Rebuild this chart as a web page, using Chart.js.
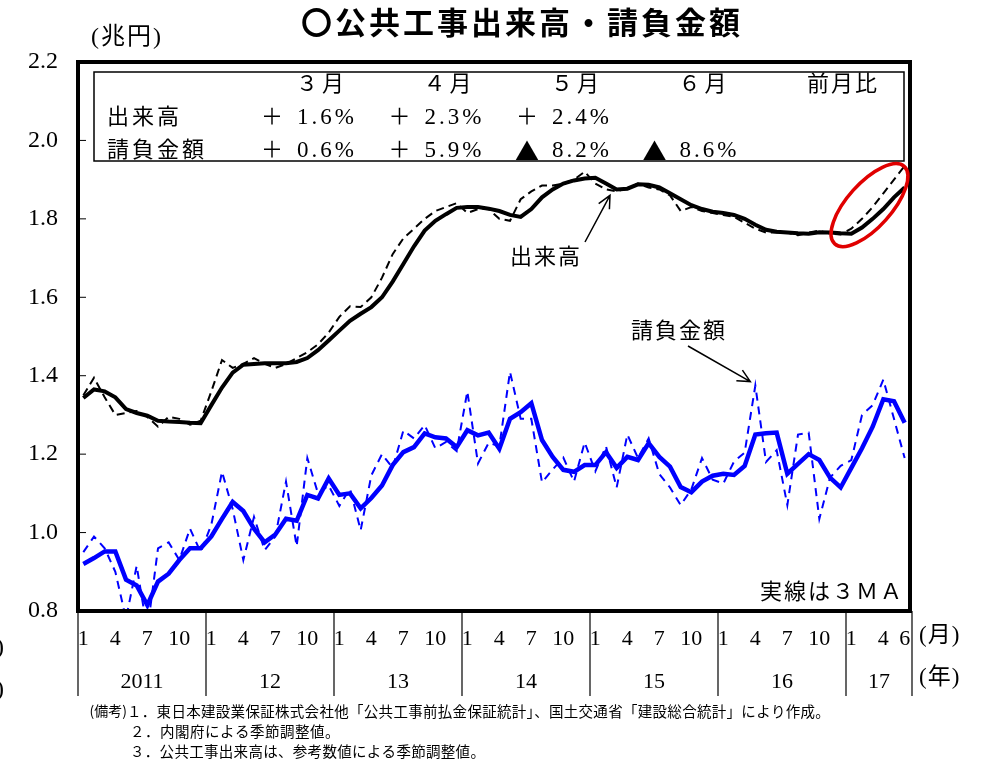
<!DOCTYPE html>
<html>
<head>
<meta charset="utf-8">
<script src="https://cdn.jsdelivr.net/npm/chart.js@4.4.1/dist/chart.umd.min.js"></script>
<style>
  html, body { margin: 0; padding: 0; background: #fff; }
  #wrap { width: 988px; height: 759px; }
</style>
</head>
<body>
<div id="wrap"><canvas id="myChart" width="988" height="759"></canvas></div>
<script>
/* globals Chart:false */
(() => {
  "use strict";

  // categories: Jan 2011 .. Jun 2017
  const years = [2011, 2012, 2013, 2014, 2015, 2016, 2017];
  const yearLabels = ["2011", "12", "13", "14", "15", "16", "17"];
  const monthsInYear = [12, 12, 12, 12, 12, 12, 6];
  const monthTicks = [1, 4, 7, 10];

  const months = [];
  const monthNo = [];
  years.forEach((y, k) => {
    for (let m = 1; m <= monthsInYear[k]; m++) {
      months.push(y + "年" + m + "月");
      monthNo.push(m);
    }
  });

  // 公共工事出来高 (兆円), raw and 3MA
  const dekidaka = [
    1.35, 1.395, 1.345, 1.30, 1.305, 1.31, 1.295, 1.27, 1.295, 1.29,
    1.275, 1.285, 1.36, 1.44, 1.42, 1.43, 1.445, 1.43, 1.42, 1.43,
    1.445, 1.46, 1.48, 1.51, 1.55, 1.577, 1.575, 1.60, 1.65, 1.71,
    1.75, 1.775, 1.80, 1.82, 1.83, 1.84, 1.815, 1.825, 1.825, 1.80,
    1.795, 1.85, 1.87, 1.885, 1.885, 1.89, 1.90, 1.92, 1.89, 1.875,
    1.87, 1.878, 1.89, 1.88, 1.875, 1.86, 1.82, 1.83, 1.82, 1.815,
    1.81, 1.805, 1.79, 1.775, 1.765, 1.765, 1.765, 1.758, 1.765, 1.77,
    1.762, 1.76, 1.775, 1.80, 1.83, 1.865, 1.90, 1.935
  ];
  const dekidaka3MA = [
    1.343, 1.365, 1.36, 1.345, 1.315, 1.305, 1.298, 1.285, 1.283, 1.282,
    1.28, 1.279, 1.325, 1.37, 1.408, 1.428, 1.43, 1.432, 1.432, 1.432,
    1.435, 1.445, 1.465, 1.49, 1.515, 1.54, 1.558, 1.575, 1.60, 1.64,
    1.685, 1.73, 1.77, 1.795, 1.812, 1.828, 1.83, 1.83, 1.826, 1.82,
    1.81, 1.805, 1.825, 1.855, 1.875, 1.89, 1.898, 1.903, 1.905, 1.89,
    1.875, 1.877, 1.888, 1.887, 1.88, 1.865, 1.85, 1.835, 1.825, 1.818,
    1.815, 1.81, 1.80, 1.785, 1.772, 1.767, 1.765, 1.763, 1.762, 1.766,
    1.765, 1.763, 1.762, 1.778, 1.80, 1.825, 1.855, 1.88
  ];

  // 請負金額 (兆円), raw and 3MA
  const ukeoi = [
    0.95, 0.99, 0.96, 0.90, 0.78, 0.915, 0.75, 0.96, 0.975, 0.93,
    1.01, 0.95, 1.02, 1.155, 1.06, 0.93, 1.04, 0.955, 0.99, 1.13,
    0.965, 1.19, 1.10, 1.12, 1.068, 1.112, 1.006, 1.146, 1.20, 1.165,
    1.26, 1.24, 1.274, 1.215, 1.231, 1.208, 1.36, 1.176, 1.229, 1.22,
    1.41, 1.29, 1.29, 1.128, 1.161, 1.191, 1.13, 1.23, 1.156, 1.22,
    1.115, 1.25, 1.19, 1.24, 1.149, 1.115, 1.07, 1.11, 1.19, 1.135,
    1.125, 1.181, 1.204, 1.375, 1.18, 1.21, 1.07, 1.25, 1.255, 1.035,
    1.14, 1.17, 1.185, 1.30, 1.325, 1.39, 1.29, 1.19
  ];
  const ukeoi3MA = [
    0.92, 0.935, 0.952, 0.952, 0.88, 0.865, 0.815, 0.875, 0.895, 0.93,
    0.96, 0.96, 0.99, 1.035, 1.078, 1.055, 1.01, 0.975, 0.995, 1.035,
    1.03, 1.096, 1.087, 1.138, 1.096, 1.10, 1.062, 1.088, 1.12, 1.172,
    1.205, 1.218, 1.253, 1.243, 1.24, 1.218, 1.261, 1.248, 1.255, 1.214,
    1.29, 1.307, 1.33, 1.236, 1.193, 1.16, 1.155, 1.172, 1.172, 1.205,
    1.165, 1.193, 1.185, 1.228, 1.193, 1.168, 1.116, 1.103, 1.13, 1.145,
    1.15, 1.147, 1.17, 1.25, 1.253, 1.255, 1.15, 1.175, 1.20, 1.185,
    1.14, 1.115, 1.165, 1.215, 1.27, 1.34, 1.335, 1.28
  ];

  // 前月比 table
  const tableMonths = ["３月", "４月", "５月", "６月"];
  const dekidakaChg = [["＋", "1.6%"], ["＋", "2.3%"], ["＋", "2.4%"]];
  const ukeoiChg = [["＋", "0.6%"], ["＋", "5.9%"], ["▲", "8.2%"], ["▲", "8.6%"]];

  const SERIF = '"Liberation Serif", "Noto Sans CJK JP", serif';
  const GOTHIC = '"Noto Sans CJK JP", sans-serif';

  function txt(ctx, s, x, y, font, align, spacing, maxW) {
    ctx.font = font;
    ctx.textAlign = align || "left";
    ctx.textBaseline = "middle";
    ctx.letterSpacing = (spacing || 0) + "px";
    ctx.fillStyle = "#000";
    if (maxW) ctx.fillText(s, x, y, maxW);
    else ctx.fillText(s, x, y);
    ctx.letterSpacing = "0px";
  }

  function arrow(ctx, x0, y0, x1, y1) {
    const a = Math.atan2(y1 - y0, x1 - x0);
    const h = 14;
    ctx.beginPath();
    ctx.moveTo(x0, y0);
    ctx.lineTo(x1, y1);
    ctx.moveTo(x1 - h * Math.cos(a - 0.45), y1 - h * Math.sin(a - 0.45));
    ctx.lineTo(x1, y1);
    ctx.lineTo(x1 - h * Math.cos(a + 0.45), y1 - h * Math.sin(a + 0.45));
    ctx.stroke();
  }

  const decor = {
    id: "decor",
    beforeDraw(chart) {
      const ctx = chart.ctx;
      ctx.save();
      ctx.fillStyle = "#fff";
      ctx.fillRect(0, 0, chart.width, chart.height);
      ctx.restore();
    },
    afterDraw(chart) {
      const ctx = chart.ctx;
      const a = chart.chartArea;
      const xs = chart.scales.x;
      const ys = chart.scales.y;
      ctx.save();
      ctx.strokeStyle = "#000";

      // title and unit
      txt(ctx, "〇公共工事出来高・請負金額", 522, 22, "bold 31px " + GOTHIC, "center", 3);
      txt(ctx, "(兆円)", 91, 38, "24px " + SERIF, "left", 2);

      // inward y ticks
      ctx.lineWidth = 1;
      ys.ticks.forEach((t) => {
        const y = ys.getPixelForValue(t.value);
        if (y <= a.top + 2 || y >= a.bottom - 2) return;
        ctx.beginPath();
        ctx.moveTo(a.left, y);
        ctx.lineTo(a.left + 8, y);
        ctx.stroke();
      });

      // frame
      ctx.lineWidth = 4;
      ctx.strokeRect(a.left, a.top, a.right - a.left, a.bottom - a.top);

      // table box
      ctx.lineWidth = 1.5;
      ctx.strokeRect(94, 72, 810, 89);
      const colW = 127.5;
      tableMonths.forEach((m, k) => txt(ctx, m, 322 + colW * k, 85, "22px " + SERIF, "center", 4));
      txt(ctx, "前月比", 843, 85, "22px " + SERIF, "center", 2);
      txt(ctx, "出来高", 107, 118, "22px " + SERIF, "left", 3);
      txt(ctx, "請負金額", 107, 151, "22px " + SERIF, "left", 3);
      const sign = (s, x, y) => {
        if (s === "▲") txt(ctx, s, x, y, "24px " + GOTHIC, "center", 0);
        else txt(ctx, s, x, y, "22px " + SERIF, "center", 0);
      };
      dekidakaChg.forEach((c, k) => {
        sign(c[0], 272 + colW * k, 118);
        txt(ctx, c[1], 297 + colW * k, 118, "23px " + SERIF, "left", 3);
      });
      ukeoiChg.forEach((c, k) => {
        sign(c[0], 272 + colW * k, 151);
        txt(ctx, c[1], 297 + colW * k, 151, "23px " + SERIF, "left", 3);
      });

      // annotations
      ctx.lineWidth = 1.5;
      txt(ctx, "出来高", 546, 258, "22px " + SERIF, "center", 2);
      arrow(ctx, 585, 242, xs.getPixelForValue(49) + 4, ys.getPixelForValue(1.86));
      txt(ctx, "請負金額", 679, 332, "22px " + SERIF, "center", 2);
      arrow(ctx, 688, 346, xs.getPixelForValue(63) - 5, ys.getPixelForValue(1.385));
      txt(ctx, "実線は３ＭＡ", a.right - 6, 593, "22px " + SERIF, "right", 2);

      // red ellipse
      ctx.strokeStyle = "#e00000";
      ctx.lineWidth = 3.5;
      ctx.beginPath();
      ctx.ellipse(xs.getPixelForValue(73.7), ys.getPixelForValue(1.835), 52, 22, -0.84, 0, Math.PI * 2);
      ctx.stroke();
      ctx.strokeStyle = "#000";

      // year separators and labels
      ctx.lineWidth = 1.2;
      let start = 0;
      const bounds = [a.left];
      monthsInYear.forEach((n, k) => {
        const end = start + n;
        const xr = end < months.length
          ? (xs.getPixelForValue(end - 1) + xs.getPixelForValue(end)) / 2
          : a.right + 2;
        bounds.push(xr);
        const xl = bounds[k];
        txt(ctx, yearLabels[k], (xl + xr) / 2, 682, "22px " + SERIF, "center", 0);
        start = end;
      });
      bounds.forEach((x) => {
        ctx.beginPath();
        ctx.moveTo(x, a.bottom);
        ctx.lineTo(x, 696);
        ctx.stroke();
      });
      txt(ctx, "(月)", 919, 636, "23px " + SERIF, "left", 1);
      txt(ctx, "(年)", 919, 678, "23px " + SERIF, "left", 1);
      txt(ctx, ")", -4, 648, "24px " + SERIF, "left", 0);
      txt(ctx, ")", -4, 690, "24px " + SERIF, "left", 0);

      // notes
      txt(ctx, "(備考)", 127, 711, "14px " + GOTHIC, "right", 0);
      txt(ctx, "１．東日本建設業保証株式会社他「公共工事前払金保証統計」、国土交通省「建設総合統計」により作成。", 127, 711, "14.5px " + GOTHIC, "left", 0.3, 722);
      txt(ctx, "２．内閣府による季節調整値。", 130, 731, "14.5px " + GOTHIC, "left", 0.5);
      txt(ctx, "３．公共工事出来高は、参考数値による季節調整値。", 130, 751, "14.5px " + GOTHIC, "left", 0.3);
      ctx.restore();
    }
  };

  const chartEl = document.getElementById("myChart");
  // eslint-disable-next-line no-unused-vars
  const myChart = new Chart(chartEl, {
    type: "line",
    data: {
      labels: months,
      datasets: [
        { label: "出来高（3MA）", data: dekidaka3MA, borderColor: "#000", borderWidth: 4, pointRadius: 0, order: 1 },
        { label: "請負金額（3MA）", data: ukeoi3MA, borderColor: "#0000ff", borderWidth: 4.5, pointRadius: 0, order: 2 },
        { label: "出来高", data: dekidaka, borderColor: "#000", borderWidth: 2, borderDash: [8, 5], pointRadius: 0, order: 3 },
        { label: "請負金額", data: ukeoi, borderColor: "#0000ff", borderWidth: 2, borderDash: [8, 6], pointRadius: 0, order: 4 },
      ],
    },
    options: {
      responsive: false,
      animation: false,
      layout: { padding: { left: 0, top: 62, right: 78, bottom: 108 } },
      plugins: {
        legend: { display: false },
        tooltip: { enabled: false },
      },
      scales: {
        x: {
          offset: true,
          grid: { display: false, drawTicks: false },
          border: { display: false },
          ticks: {
            autoSkip: false,
            maxRotation: 0,
            minRotation: 0,
            padding: 15,
            color: "#000",
            font: { family: SERIF, size: 22 },
            callback: (v, i) => {
              const m = monthNo[i];
              return monthTicks.includes(m) || i === months.length - 1 ? String(m) : "";
            },
          },
          afterFit: (s) => { s.height = 40; },
        },
        y: {
          min: 0.8,
          max: 2.2,
          grid: { display: false, drawTicks: false },
          border: { display: false },
          ticks: {
            stepSize: 0.2,
            padding: 20,
            color: "#000",
            font: { family: SERIF, size: 24 },
            callback: (v) => v.toFixed(1),
          },
          afterFit: (s) => { s.width = 78; },
        },
      },
    },
    plugins: [decor],
  });
})();
</script>
</body>
</html>
